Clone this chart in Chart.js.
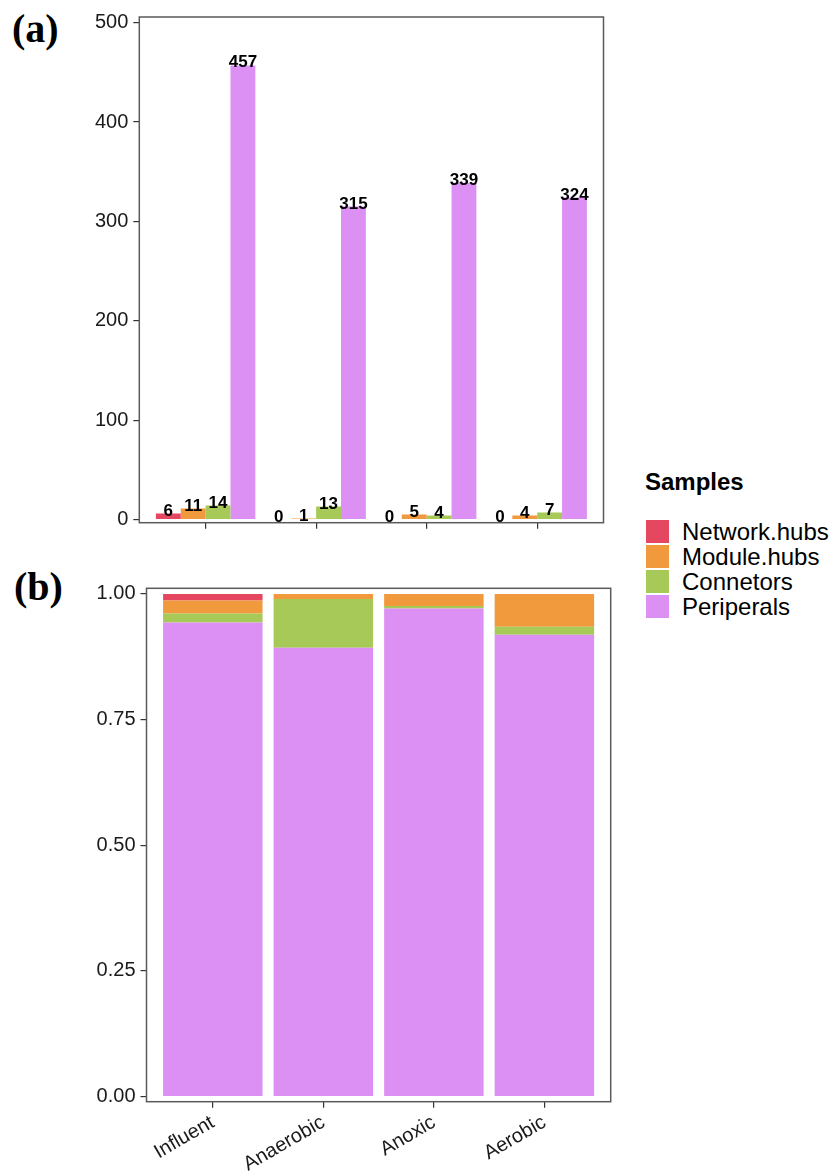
<!DOCTYPE html>
<html lang="en">
<head>
<meta charset="UTF-8">
<title>Network roles</title>
<script src="https://cdn.jsdelivr.net/npm/chart.js"></script>
<style>
    body { margin: 0; background: #fff; font-family: "Liberation Sans", Arial, sans-serif; }
    #page { position: relative; width: 838px; height: 1176px; }
    canvas { position: absolute; left: 0; }
    #chartA { top: 0; }
    #chartB { top: 570px; }
    .panel { position: absolute; font-family: "Liberation Serif", "Times New Roman", serif; font-weight: bold; font-size: 40px; line-height: 40px; color: #000; }
    #legend { position: absolute; left: 645px; top: 470px; color: #000; }
    #legend .title { font-weight: bold; font-size: 24px; line-height: 24px; margin-bottom: 25px; }
    #legend .row { display: flex; align-items: center; height: 25px; }
    #legend .key { width: 23px; height: 23px; margin-left: 1px; margin-right: 13px; }
    #legend .lab { font-size: 24px; line-height: 25px; }
</style>
</head>
<body>
<div id="page">
    <div class="panel" style="left:12px; top:9px;">(a)</div>
    <div class="panel" style="left:14px; top:567px;">(b)</div>
    <canvas id="chartA" width="630" height="560"></canvas>
    <canvas id="chartB" width="630" height="606"></canvas>
    <div id="legend"></div>
</div>
<script>
// categories and series
var categories = ['Influent', 'Anaerobic', 'Anoxic', 'Aerobic'];
var seriesNames = ['Network.hubs', 'Module.hubs', 'Connetors', 'Periperals'];
var seriesColors = ['#E4475F', '#F0993D', '#A6C957', '#DD90F4'];

// (a) counts
var countNetworkHubs = [6, 0, 0, 0];
var countModuleHubs = [11, 1, 5, 4];
var countConnetors = [14, 13, 4, 7];
var countPeriperals = [457, 315, 339, 324];

// (b) proportions
var propNetworkHubs = [0.013, 0, 0, 0];
var propModuleHubs = [0.026, 0.010, 0.024, 0.065];
var propConnetors = [0.018, 0.097, 0.005, 0.016];
var propPeriperals = [0.943, 0.893, 0.971, 0.919];

// tick labels
var xTickPos = [1, 2, 3, 4];
var yTicksA = [0, 100, 200, 300, 400, 500];
var yTicksB = [0, 0.25, 0.5, 0.75, 1];

Chart.defaults.font.family = '"Liberation Sans", Arial, sans-serif';
Chart.defaults.color = '#1a1a1a';

function toPoints(arr) {
    return arr.map(function (v, i) { return { x: xTickPos[i], y: v }; });
}

// rahmen um das panel
var framePlugin = {
    id: 'frame',
    afterDraw: function (chart) {
        var a = chart.chartArea, ctx = chart.ctx;
        ctx.save();
        ctx.strokeStyle = '#5a5a5a';
        ctx.lineWidth = 1.5;
        ctx.strokeRect(a.left, a.top, a.right - a.left, a.bottom - a.top);
        ctx.restore();
    }
};

// zahlen ueber den balken
var valueLabels = {
    id: 'valueLabels',
    afterDatasetsDraw: function (chart) {
        var ctx = chart.ctx;
        ctx.save();
        ctx.font = 'bold 17px "Liberation Sans", Arial, sans-serif';
        ctx.fillStyle = '#000';
        ctx.textAlign = 'center';
        ctx.textBaseline = 'alphabetic';
        chart.data.datasets.forEach(function (ds, i) {
            chart.getDatasetMeta(i).data.forEach(function (bar, j) {
                ctx.fillText(String(ds.data[j].y), bar.x, bar.y + 2);
            });
        });
        ctx.restore();
    }
};

function axisGrid() {
    return { drawOnChartArea: false, drawTicks: true, tickLength: 6, tickColor: '#333', lineWidth: 1.2, offset: false };
}

var countSets = [countNetworkHubs, countModuleHubs, countConnetors, countPeriperals];
new Chart(document.getElementById('chartA'), {
    type: 'bar',
    data: {
        datasets: countSets.map(function (arr, i) {
            return { label: seriesNames[i], data: toPoints(arr), backgroundColor: seriesColors[i],
                     categoryPercentage: 0.9, barPercentage: 1 };
        })
    },
    options: {
        responsive: false,
        animation: false,
        layout: { padding: { top: 15, right: 26.5, left: 0, bottom: 0 } },
        plugins: { legend: { display: false }, tooltip: { enabled: false } },
        scales: {
            x: {
                type: 'linear', min: 0.4, max: 4.6, offset: false,
                afterBuildTicks: function (s) { s.ticks = xTickPos.map(function (v) { return { value: v }; }); },
                afterFit: function (s) { s.height = 37.3; },
                ticks: { display: false },
                grid: axisGrid(),
                border: { display: false }
            },
            y: {
                min: -3.2, max: 505.7,
                afterBuildTicks: function (s) { s.ticks = yTicksA.map(function (v) { return { value: v }; }); },
                afterFit: function (s) { s.width = 139.3; },
                ticks: { font: { size: 20 }, padding: 5, color: '#1a1a1a' },
                grid: axisGrid(),
                border: { display: false }
            }
        }
    },
    plugins: [framePlugin, valueLabels]
});

// gestapelt: unterste serie zuerst
var propSets = [propNetworkHubs, propModuleHubs, propConnetors, propPeriperals];
var stackOrder = [3, 2, 1, 0];
new Chart(document.getElementById('chartB'), {
    type: 'bar',
    data: {
        datasets: stackOrder.map(function (i) {
            return { label: seriesNames[i], data: toPoints(propSets[i]), backgroundColor: seriesColors[i],
                     categoryPercentage: 0.9, barPercentage: 1 };
        })
    },
    options: {
        responsive: false,
        animation: false,
        layout: { padding: { top: 18.3, right: 19.3, left: 0, bottom: 0 } },
        plugins: { legend: { display: false }, tooltip: { enabled: false } },
        scales: {
            x: {
                type: 'linear', min: 0.4, max: 4.6, stacked: true, offset: false,
                afterBuildTicks: function (s) { s.ticks = xTickPos.map(function (v) { return { value: v }; }); },
                afterFit: function (s) { s.height = 74.3; },
                ticks: {
                    font: { size: 20 }, padding: 3, color: '#1a1a1a',
                    autoSkip: false, minRotation: 30, maxRotation: 30,
                    callback: function (v) { return categories[v - 1]; }
                },
                grid: axisGrid(),
                border: { display: false }
            },
            y: {
                min: -0.0103, max: 1.0113, stacked: true,
                afterBuildTicks: function (s) { s.ticks = yTicksB.map(function (v) { return { value: v }; }); },
                afterFit: function (s) { s.width = 146.5; },
                ticks: { font: { size: 20 }, padding: 5, color: '#1a1a1a',
                         callback: function (v) { return Number(v).toFixed(2); } },
                grid: axisGrid(),
                border: { display: false }
            }
        }
    },
    plugins: [framePlugin]
});

// legende
var legend = document.getElementById('legend');
var html = '<div class="title">Samples</div>';
seriesNames.forEach(function (name, i) {
    html += '<div class="row"><div class="key" style="background:' + seriesColors[i] + '"></div>' +
            '<div class="lab">' + name + '</div></div>';
});
legend.innerHTML = html;
</script>
</body>
</html>
